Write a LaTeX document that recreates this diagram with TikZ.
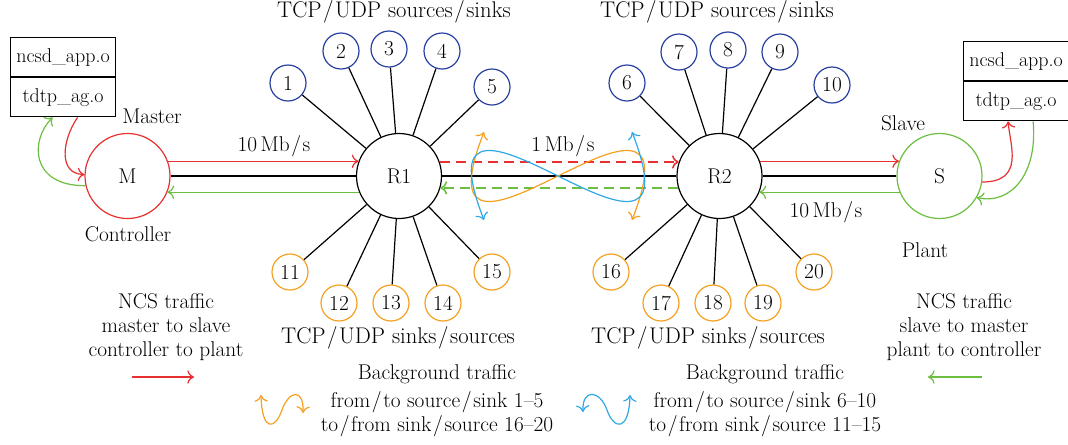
\documentclass[tikz,border=0pt]{standalone}
\usepackage{fontspec}
\usetikzlibrary{arrows.meta,calc}
\definecolor{cred}{RGB}{232,48,48}
\definecolor{cgreen}{RGB}{108,190,64}
\definecolor{cblue}{RGB}{40,64,160}
\definecolor{corange}{RGB}{245,160,32}
\definecolor{ccyan}{RGB}{48,168,228}
\newcommand\sla{\kern1.2pt/\kern1.2pt}
\begin{document}
\begin{tikzpicture}[x=0.75pt,y=-0.75pt,font=\fontsize{16}{18}\selectfont,
  big/.style={circle,draw,line width=0.9pt,minimum size=63.75pt,inner sep=0pt},
  src/.style={circle,draw=cblue,line width=0.9pt,minimum size=27pt,inner sep=0pt},
  snk/.style={circle,draw=corange,line width=0.9pt,minimum size=27pt,inner sep=0pt},
  link/.style={line width=0.9pt},
  boxpart/.style={draw,line width=0.9pt,minimum width=78.75pt,minimum height=29.25pt,inner sep=0pt,font=\fontsize{15}{18}\selectfont},
  tip/.style={line width=0.9pt,-{To[length=5pt,width=10pt]}},
  tips/.style={line width=0.9pt,{To[length=5pt,width=10pt]}-{To[length=5pt,width=10pt]}},
  dsh/.style={line width=1.2pt,dash pattern=on 7.5pt off 4.5pt},
  grp/.style={inner sep=0pt,font=\fontsize{17}{18}\selectfont},
  lbl/.style={inner sep=0pt,align=center}]
\useasboundingbox (0,0) rectangle (1068,444);
% main nodes
\node[big,draw=cred] (M) at (127.5,176) {M};
\node[big] (R1) at (399,176) {R1};
\node[big] (R2) at (719.5,176) {R2};
\node[big,draw=cgreen] (S) at (939.5,176) {S};
% sources / sinks
\node[src] (n1) at (288,83) {1};
\node[src] (n2) at (341,51) {2};
\node[src] (n3) at (389,49) {3};
\node[src] (n4) at (442,51) {4};
\node[src] (n5) at (492,87) {5};
\node[src] (n6) at (627,83) {6};
\node[src] (n7) at (679,52) {7};
\node[src] (n8) at (728,50) {8};
\node[src] (n9) at (780,52) {9};
\node[src] (n10) at (832,85) {10};
\node[snk] (n11) at (290,272) {11};
\node[snk] (n12) at (339,303) {12};
\node[snk] (n13) at (391,303) {13};
\node[snk] (n14) at (443,303) {14};
\node[snk] (n15) at (492,272) {15};
\node[snk] (n16) at (611,272) {16};
\node[snk] (n17) at (661,303) {17};
\node[snk] (n18) at (713,303) {18};
\node[snk] (n19) at (763,303) {19};
\node[snk] (n20) at (814,272) {20};
\foreach \n in {1,...,5,11,12,13,14,15} \draw[link] (n\n) -- (R1);
\foreach \n in {6,...,10,16,17,18,19,20} \draw[link] (n\n) -- (R2);
% group labels
\node[grp] (t1) at (394,12) {TCP\sla UDP sources\sla sinks};
\node[grp] (t2) at (717,12) {TCP\sla UDP sources\sla sinks};
\node[grp] (t3) at (398,338) {TCP\sla UDP sinks\sla sources};
\node[grp] (t4) at (708,338) {TCP\sla UDP sinks\sla sources};
% boxes
\node[boxpart,anchor=north west] (b1) at (10,37) {ncsd\_app.o};
\node[boxpart,anchor=north] (b2) at (b1.south) {tdtp\_ag.o};
\node[boxpart,anchor=north west] (b3) at (963,41) {ncsd\_app.o};
\node[boxpart,anchor=north] (b4) at (b3.south) {tdtp\_ag.o};
% role labels
\node[lbl] (lm) at (152,116) {Master};
\node[lbl] (lc) at (128,234) {Controller};
\node[lbl] (ls) at (903,123) {Slave};
\node[lbl] (lp) at (925,250) {Plant};
% links
\draw[link] (M) -- (R1);
\draw[link] (R1) -- (R2);
\draw[link] (R2) -- (S);
\draw[tip,cred] (M.20) -- (R1.160);
\draw[tip,cgreen] (R1.-158) -- (M.-22);
\draw[tip,dsh,color=cred] (R1.19) -- (R2.161);
\draw[tip,dsh,color=cgreen] (R2.-164) -- (R1.-16);
\draw[tip,cred] (R2.20) -- (S.160);
\draw[tip,cgreen] (S.-158) -- (R2.-22);
\node[lbl] (r1) at (274,146) {10\,Mb\sla s};
\node[lbl] (r2) at (563,146) {1\,Mb\sla s};
\node[lbl] (r3) at (826,212) {10\,Mb\sla s};
% application arrows
\draw[tip,cred] ($(b2.south)+(14.5,0)$) .. controls (62,140) and (58,174) .. (M.178);
\draw[tip,cgreen] (M.193) .. controls (30,186) and (30,140) .. ($(b2.south)+(-10.5,0)$);
\draw[tip,cred] (S.-8) .. controls (1025,182) and (1010,145) .. ($(b4.south)+(-8,0)$);
\draw[tip,cgreen] ($(b4.south)+(17,0)$) .. controls (1038,175) and (1010,205) .. (S.-30);
% background traffic figure eight
\coordinate (oa) at (484,132);
\coordinate (oc) at (558,176);
\coordinate (ob) at (632,220);
\coordinate (ca) at (484,220);
\coordinate (cb) at (632,132);
\draw[tips,corange] (oa) .. controls (445,232) and (505,202) .. (oc) .. controls (611,150) and (671,120) .. (ob);
\draw[tips,ccyan] (ca) .. controls (445,120) and (505,150) .. (oc) .. controls (611,202) and (671,232) .. (cb);
% legend
\node[lbl] (lg1) at (166,327.5) {NCS traffic\\master to slave\\controller to plant};
\node[lbl] (lg2) at (964,327.5) {NCS traffic\\slave to master\\plant to controller};
\coordinate (ar1) at (132,377);
\coordinate (ar2) at (194,377);
\draw[tip,cred] (ar1) -- (ar2);
\coordinate (ag1) at (982,377);
\coordinate (ag2) at (928,377);
\draw[tip,cgreen] (ag1) -- (ag2);
\node[lbl] (lg3) at (437,401) {Background traffic\\[3pt]from\sla to source\sla sink 1--5\\to\sla from sink\sla source 16--20};
\node[lbl] (lg4) at (765,401) {Background traffic\\[3pt]from\sla to source\sla sink 6--10\\to\sla from sink\sla source 11--15};
\coordinate (sq1) at (261,395);
\coordinate (sqm) at (282,410);
\coordinate (sq2) at (303,413);
\draw[tips,corange] (sq1) .. controls (262,432) and (275,430) .. (sqm) .. controls (289,390) and (304,388) .. (sq2);
\coordinate (sb1) at (630,395);
\coordinate (sbm) at (607,410);
\coordinate (sb2) at (583,412);
\draw[tips,ccyan] (sb1) .. controls (629,432) and (614,430) .. (sbm) .. controls (600,390) and (582,388) .. (sb2);
\end{tikzpicture}
\end{document}
